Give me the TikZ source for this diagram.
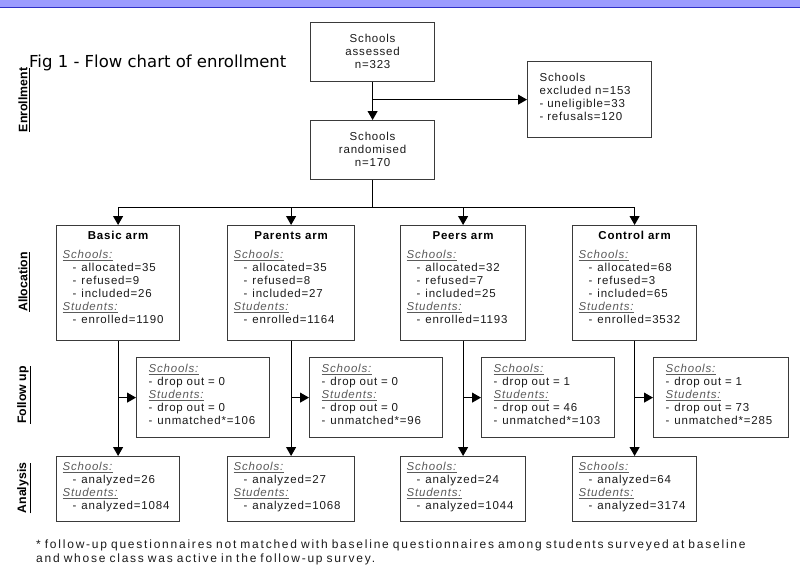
\documentclass[tikz,border=0pt]{standalone}
\usepackage{fontspec}
\setmainfont[LetterSpace=7]{Liberation Sans}
\newfontfamily\titlefont{DejaVu Sans}
\newfontfamily\sidefont{Liberation Sans}
\newfontfamily\notefont[LetterSpace=14.8]{Liberation Sans}
\usetikzlibrary{arrows.meta}

\definecolor{boxline}{HTML}{3A3A3A}
\definecolor{txt}{HTML}{1A1A1A}
\definecolor{headgray}{HTML}{5A5A5A}
\definecolor{bandfill}{HTML}{9C9CFF}
\definecolor{bandline}{HTML}{3030C8}

\newcommand{\hd}[1]{{\color{headgray}\underline{\textit{#1}}}}
\newcommand{\lsub}[1]{\hspace*{10pt}-\hspace{5pt}#1}
\newcommand{\lfu}[1]{-\hspace{5pt}#1}

\tikzstyle{box}=[draw=boxline, line width=1.2pt, text=txt, font=\fontsize{11.5}{13}\selectfont, inner ysep=0pt, anchor=north west]
\tikzstyle{arm}=[box, align=left, inner xsep=6pt, text width=111pt, text height=14pt, text depth=101pt]
\tikzstyle{fu}=[box, align=left, inner xsep=12pt, text width=109pt, text height=15pt, text depth=65pt]
\tikzstyle{ana}=[box, align=left, inner xsep=6pt, text width=111pt, text height=14pt, text depth=51pt]
\tikzstyle{flow}=[box, align=center, inner xsep=6pt, text width=112pt, text height=20pt, text depth=39pt]
\tikzstyle{excl}=[box, align=left, inner xsep=12pt, text width=100pt, text height=19.5pt, text depth=56.5pt]
\tikzstyle{side}=[rotate=90, inner sep=0pt, text=black, font=\sidefont\bfseries\fontsize{12.3}{14}\selectfont]
\tikzstyle{arrow}=[line width=1pt, -{Triangle[length=9pt, width=10pt]}]

\begin{document}
\begin{tikzpicture}[x=1pt, y=-1pt]
      \useasboundingbox (0,0) rectangle (800,566);
      \fill[bandfill] (0,0) rectangle (800,7);
      \draw[bandline, line width=1.5pt] (0,7.5) -- (800,7.5);

      \node[anchor=base west, inner sep=0pt, font=\titlefont\fontsize{16.5}{18}\selectfont] (title) at (29,67) {Fig 1 - Flow chart of enrollment};

      \node[side] (enrolllbl) at (24,100) {\underline{Enrollment}};
      \node[side] (alloclbl) at (24,282) {\underline{Allocation}};
      \node[side] (fulbl) at (24,395) {\underline{Follow up}};
      \node[side] (analbl) at (24,488) {\underline{Analysis}};

      \node[flow] (assessed) at (310,22) {Schools\\assessed\\n=323};
      \node[flow] (randomised) at (310,120) {Schools\\randomised\\n=170};
      \node[excl] (excluded) at (527,61) {Schools\\excluded n=153\\- uneligible=33\\- refusals=120};

      \node[arm] (basic) at (56,225) {\makebox[\linewidth]{\bfseries\color{black}Basic arm}\\[6pt]
            \hd{Schools:}\\ \lsub{allocated=35}\\ \lsub{refused=9}\\ \lsub{included=26}\\
            \hd{Students:}\\ \lsub{enrolled=1190}};
      \node[arm, text width=115pt] (parents) at (227,225) {\makebox[\linewidth]{\bfseries\color{black}Parents arm}\\[6pt]
            \hd{Schools:}\\ \lsub{allocated=35}\\ \lsub{refused=8}\\ \lsub{included=27}\\
            \hd{Students:}\\ \lsub{enrolled=1164}};
      \node[arm, text width=113pt] (peers) at (400,225) {\makebox[\linewidth]{\bfseries\color{black}Peers arm}\\[6pt]
            \hd{Schools:}\\ \lsub{allocated=32}\\ \lsub{refused=7}\\ \lsub{included=25}\\
            \hd{Students:}\\ \lsub{enrolled=1193}};
      \node[arm, text width=112pt] (control) at (572,225) {\makebox[\linewidth]{\bfseries\color{black}Control arm}\\[6pt]
            \hd{Schools:}\\ \lsub{allocated=68}\\ \lsub{refused=3}\\ \lsub{included=65}\\
            \hd{Students:}\\ \lsub{enrolled=3532}};

      \node[fu] (basicfu) at (136,357) {\hd{Schools:}\\ \lfu{drop out = 0}\\ \hd{Students:}\\ \lfu{drop out = 0}\\ \lfu{unmatched*=106}};
      \node[fu] (parentsfu) at (309,357) {\hd{Schools:}\\ \lfu{drop out = 0}\\ \hd{Students:}\\ \lfu{drop out = 0}\\ \lfu{unmatched*=96}};
      \node[fu] (peersfu) at (481,357) {\hd{Schools:}\\ \lfu{drop out = 1}\\ \hd{Students:}\\ \lfu{drop out = 46}\\ \lfu{unmatched*=103}};
      \node[fu, text width=111pt] (controlfu) at (653,357) {\hd{Schools:}\\ \lfu{drop out = 1}\\ \hd{Students:}\\ \lfu{drop out = 73}\\ \lfu{unmatched*=285}};

      \node[ana] (basicana) at (56,456) {\hd{Schools:}\\ \lsub{analyzed=26}\\ \hd{Students:}\\ \lsub{analyzed=1084}};
      \node[ana, text width=115pt] (parentsana) at (227,456) {\hd{Schools:}\\ \lsub{analyzed=27}\\ \hd{Students:}\\ \lsub{analyzed=1068}};
      \node[ana, text width=113pt] (peersana) at (400,456) {\hd{Schools:}\\ \lsub{analyzed=24}\\ \hd{Students:}\\ \lsub{analyzed=1044}};
      \node[ana, text width=112pt] (controlana) at (572,456) {\hd{Schools:}\\ \lsub{analyzed=64}\\ \hd{Students:}\\ \lsub{analyzed=3174}};

      \node[anchor=north west, align=left, inner sep=0pt, text width=760pt, text height=9pt, text=txt, font=\notefont\fontsize{12}{14}\selectfont] (note) at (36,539)
            {* follow-up questionnaires not matched with baseline questionnaires among students surveyed at baseline\\and whose class was active in the follow-up survey.};

      \path (randomised.south) ++(0,27) coordinate (split);

      \draw[arrow] (assessed.south) to (randomised.north);
      \draw[arrow] (assessed.south |- excluded.west) to (excluded.west);
      \draw[line width=1pt] (randomised.south) to (split);
      \draw[arrow] (split) -| (basic.north);
      \draw[arrow] (split) -| (parents.north);
      \draw[arrow] (split) -| (peers.north);
      \draw[arrow] (split) -| (control.north);

      \draw[arrow] (basic.south) to (basicana.north);
      \draw[arrow] (parents.south) to (parentsana.north);
      \draw[arrow] (peers.south) to (peersana.north);
      \draw[arrow] (control.south) to (controlana.north);

      \draw[arrow] (basic.south |- basicfu.west) to (basicfu.west);
      \draw[arrow] (parents.south |- parentsfu.west) to (parentsfu.west);
      \draw[arrow] (peers.south |- peersfu.west) to (peersfu.west);
      \draw[arrow] (control.south |- controlfu.west) to (controlfu.west);
    \end{tikzpicture}
\end{document}
